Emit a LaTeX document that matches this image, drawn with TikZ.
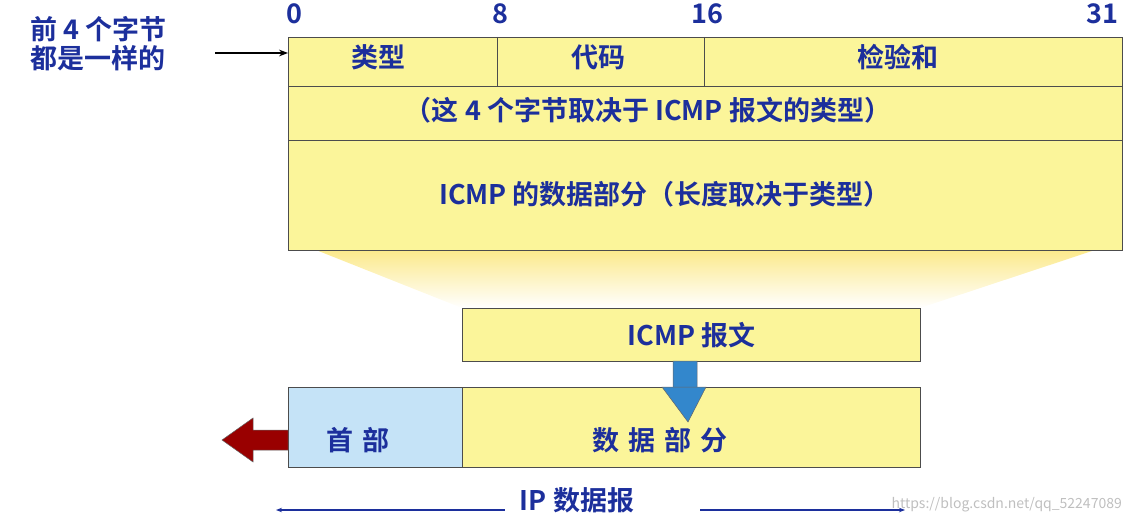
\documentclass[tikz,border=0pt]{standalone}
\usepackage{fontspec}
\setmainfont{Noto Sans CJK SC}[BoldFont={* Bold}]
\definecolor{tb}{HTML}{1C2F9C}
\definecolor{by}{HTML}{FBF59A}
\definecolor{lb}{HTML}{C5E3F7}
\usetikzlibrary{arrows.meta}
\begin{document}
\begin{tikzpicture}[x=1pt,y=-1pt,
  lbl/.style={text=tb,font=\bfseries\fontsize{27}{31}\selectfont},
  box/.style={draw=black!70,line width=0.8pt,fill=by}]
\useasboundingbox (0,0) rectangle (1139,526);
% funnel
\shade[top color=by!90!orange,bottom color=white] (316,250) -- (1095,250) -- (920,308) -- (462,308) -- cycle;
% main box
\node[box,minimum width=834pt,minimum height=213pt,anchor=north west,inner sep=0] (main) at (288,37) {};
\draw[black!70,line width=0.8pt] (288,86) -- (1122,86) (288,140) -- (1122,140) (497,37) -- (497,86) (704,37) -- (704,86);
\node[lbl] (t1) at (378,57) {类型};
\node[lbl] (t2) at (598,57) {代码};
\node[lbl] (t3) at (898,57) {检验和};
\node[lbl] (t4) at (648,110) {（这 4 个字节取决于 ICMP 报文的类型）};
\node[lbl] (t5) at (665,194) {ICMP 的数据部分（长度取决于类型）};
\node[lbl] (n0) at (294,14) {0};
\node[lbl] (n8) at (500,14) {8};
\node[lbl] (n16) at (707,14) {16};
\node[lbl] (n31) at (1102,14) {31};
\node[lbl,align=left,anchor=west,inner sep=0] (left) at (30,44) {前 4 个字节\\[-2pt]都是一样的};
\coordinate (la) at (215,53);
\coordinate (lb) at (288,53);
\draw[-{Stealth[length=9pt]},line width=1.2pt] (la) -- (lb);
% ICMP box
\node[box,minimum width=458pt,minimum height=53pt,anchor=north west,inner sep=0] (icmp) at (462,308) {};
\node[lbl] at (icmp.center) {ICMP 报文};
% blue arrow
\draw[draw=black!60,fill=blue!45!cyan!60!gray,line width=0.5pt] (673,361) -- (697,361) -- (697,392) -- (706,392) -- (688,422) -- (662,392) -- (673,392) -- cycle;
% IP box
\node[draw=black!70,line width=0.8pt,fill=lb,minimum width=174pt,minimum height=80pt,anchor=north west,inner sep=0] (hdr) at (288,387) {};
\node[box,minimum width=458pt,minimum height=80pt,anchor=north west,inner sep=0] (data) at (462,387) {};
\draw[draw=black!60,fill=blue!45!cyan!60!gray,line width=0.5pt] (662,387) -- (706,387) -- (688,422) -- cycle;
\node[lbl] at (358,440) {首\,\,部};
\node[lbl] at (660,440) {数\,\,据\,\,部\,\,分};
% red arrow
\draw[draw=black!60,fill=red!60!black,line width=0.5pt] (288,430) -- (253,430) -- (253,418) -- (222,440) -- (253,462) -- (253,450) -- (288,450) -- cycle;
% IP datagram label
\node[lbl] (ip) at (577,500) {IP 数据报};
\coordinate (a1) at (276,510);
\coordinate (a2) at (505,510);
\coordinate (a3) at (700,510);
\coordinate (a4) at (905,510);
\draw[tb,line width=1.5pt,{Stealth[length=6pt]}-] (a1) -- (a2);
\draw[tb,line width=1.5pt,-{Stealth[length=6pt]}] (a3) -- (a4);
\node[text=black!25,font=\fontsize{14}{16}\selectfont,anchor=west] (wm) at (888,505) {https://blog.csdn.net/qq\_52247089};
\end{tikzpicture}
\end{document}
